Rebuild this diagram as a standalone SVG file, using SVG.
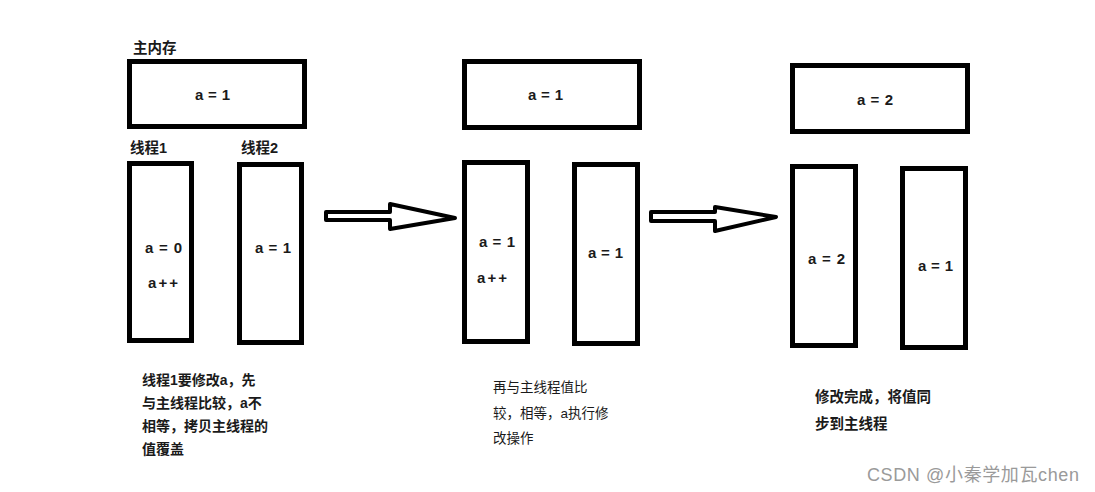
<svg xmlns="http://www.w3.org/2000/svg" width="1095" height="492" viewBox="0 0 1095 492">
  <style>
    .box { fill: #ffffff; stroke: #000000; stroke-width: 5; }
    .arrow { fill: #ffffff; stroke: #000000; stroke-width: 4; stroke-linejoin: round; }
    .val { font-family: "Liberation Sans", "Noto Sans CJK SC", sans-serif; font-size: 15px; font-weight: bold; fill: #1a1a1a; }
    .lbl { font-family: "Liberation Sans", "Noto Sans CJK SC", sans-serif; font-size: 14.5px; font-weight: bold; fill: #1a1a1a; }
    .note { font-family: "Liberation Sans", "Noto Sans CJK SC", sans-serif; font-size: 14px; font-weight: bold; fill: #1a1a1a; }
    .note2 { font-family: "Liberation Sans", "Noto Sans CJK SC", sans-serif; font-size: 13.5px; fill: #1a1a1a; }
    .wm { font-family: "Liberation Sans", "Noto Sans CJK SC", sans-serif; font-size: 18px; fill: #9a9a9a; }
  </style>
  <rect width="1095" height="492" fill="#ffffff"/>

  <!-- Stage 1 -->
  <g id="main-memory-1">
    <text class="lbl" x="133" y="53">主内存</text>
    <rect class="box" x="129.5" y="61.5" width="175" height="65"/>
    <text class="val" x="195" y="100" textLength="35">a = 1</text>
  </g>
  <g id="thread1-1">
    <text class="lbl" x="130" y="153">线程1</text>
    <rect class="box" x="129.5" y="163.5" width="62" height="177"/>
    <text class="val" x="145" y="253" textLength="37">a = 0</text>
    <text class="val" x="148" y="288" textLength="30">a++</text>
  </g>
  <g id="thread2-1">
    <text class="lbl" x="241" y="153">线程2</text>
    <rect class="box" x="239.5" y="164.5" width="62" height="178"/>
    <text class="val" x="255" y="253" textLength="36">a = 1</text>
  </g>
  <g id="note-1">
    <text class="note" x="142" y="385">线程1要修改a，先</text>
    <text class="note" x="142" y="408">与主线程比较，a不</text>
    <text class="note" x="142" y="431">相等，拷贝主线程的</text>
    <text class="note" x="142" y="454">值覆盖</text>
  </g>

  <!-- Stage 2 -->
  <g id="main-memory-2">
    <rect class="box" x="464.5" y="61.5" width="175" height="66"/>
    <text class="val" x="528" y="100" textLength="35">a = 1</text>
  </g>
  <g id="thread1-2">
    <rect class="box" x="464.5" y="162.5" width="63" height="179"/>
    <text class="val" x="479" y="247" textLength="36">a = 1</text>
    <text class="val" x="477" y="283" textLength="30">a++</text>
  </g>
  <g id="thread2-2">
    <rect class="box" x="574.5" y="164.5" width="63" height="179"/>
    <text class="val" x="588" y="258" textLength="35">a = 1</text>
  </g>
  <g id="note-2">
    <text class="note2" x="493" y="392">再与主线程值比</text>
    <text class="note2" x="493" y="418">较，相等，a执行修</text>
    <text class="note2" x="493" y="443">改操作</text>
  </g>

  <!-- Stage 3 -->
  <g id="main-memory-3">
    <rect class="box" x="792.5" y="65.5" width="175" height="66"/>
    <text class="val" x="857" y="105" textLength="36">a = 2</text>
  </g>
  <g id="thread1-3">
    <rect class="box" x="792.5" y="166.5" width="63" height="179"/>
    <text class="val" x="808" y="264" textLength="37">a = 2</text>
  </g>
  <g id="thread2-3">
    <rect class="box" x="902.5" y="168.5" width="63" height="179"/>
    <text class="val" x="918" y="271" textLength="35">a = 1</text>
  </g>
  <g id="note-3">
    <text class="lbl" x="815" y="402">修改完成，将值同</text>
    <text class="lbl" x="815" y="429">步到主线程</text>
  </g>

  <!-- Connectors -->
  <g id="connectors">
    <polygon class="arrow" points="326,212 390,212 390,204 455,218 390,229 390,220 326,220"/>
    <polygon class="arrow" points="651,212 715,212 715,207 776,217 715,231 715,221 651,221"/>
  </g>

  <text class="wm" x="867" y="481" textLength="212">CSDN @小秦学加瓦chen</text>
</svg>
